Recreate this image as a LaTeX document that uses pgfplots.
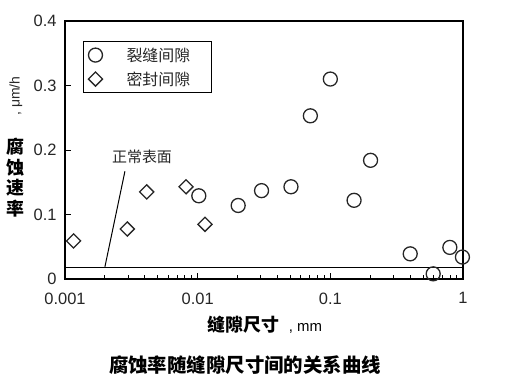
\documentclass[border=0pt]{standalone}
\usepackage{fontspec}
\setmainfont{Liberation Sans}
\newfontfamily\cjk{Noto Sans CJK SC}
\usepackage{pgfplots}
\pgfplotsset{compat=1.18}
\begin{document}
\begin{tikzpicture}[x=1bp,y=1bp]
\useasboundingbox (0,0) rectangle (507,382);
\begin{axis}[
  at={(65bp,103bp)}, anchor=south west,
  scale only axis, width=398bp, height=258bp,
  xmode=log, xmin=0.001, xmax=1, ymin=0, ymax=0.4,
  xtick={0.001,0.01,0.1,1}, xticklabels={0.001,0.01,0.1,1},
  ytick={0,0.1,0.2,0.3,0.4}, yticklabels={0,0.1,0.2,0.3,0.4},
  tick align=inside, xtick pos=bottom, ytick pos=left,
  major tick length=6bp, minor tick length=4bp,
  every tick/.style={black, line width=1bp},
  axis line style={line width=2.4bp},
  tick label style={font=\fontsize{16.5}{19}\selectfont, text=black!85},
  /pgf/number format/assume math mode=true,
  xticklabel style={yshift=-10bp},
  yticklabel style={xshift=-5bp},
  legend style={at={(rel axis cs:0.045,0.922)}, anchor=north west, draw=black, line width=1bp,
    font=\cjk\fontsize{16}{18}\selectfont, text=black!85, inner xsep=5bp, inner ysep=4bp, row sep=5bp,
    legend cell align=left},
  legend image code/.code={\draw[mark repeat=2,mark phase=2] plot coordinates {(0cm,0cm) (0.35cm,0cm) (0.7cm,0cm)};},
]
\addplot[only marks, mark=o, mark size=7bp, mark options={line width=1.3bp, black!85}] coordinates {
(0.0102,0.129) (0.0202,0.114) (0.0303,0.137) (0.0505,0.143) (0.0707,0.253) (0.1,0.310)
(0.151,0.122) (0.201,0.184) (0.40,0.039) (0.596,0.008) (0.796,0.049) (0.99,0.034)};
\addlegendentry{\hspace*{22bp}裂缝间隙\hspace*{14bp}}
\addplot[only marks, mark=square, mark size=5bp, mark options={rotate=45, line width=1.3bp, black!85}] coordinates {
(0.00116,0.059) (0.00295,0.0775) (0.00413,0.135) (0.00817,0.143) (0.01135,0.0848)};
\addlegendentry{\hspace*{22bp}密封间隙\hspace*{14bp}}
\addplot[black, line width=1.2bp, mark=none, forget plot] coordinates {(0.001,0.0175) (1,0.0175)};
\addplot[black, line width=1bp, mark=none, forget plot] coordinates {(0.002,0.019) (0.00283,0.167)};
\end{axis}
\node[font=\cjk\fontsize{15}{17}\selectfont, text=black!85] at (142,382-157) {正常表面};
\node[font=\cjk\bfseries\fontsize{18}{18}\selectfont] at (15.5,382-147) {腐};
\node[font=\cjk\bfseries\fontsize{18}{18}\selectfont] at (15.5,382-168) {蚀};
\node[font=\cjk\bfseries\fontsize{18}{18}\selectfont] at (15.5,382-188) {速};
\node[font=\cjk\bfseries\fontsize{18}{18}\selectfont] at (15.5,382-209) {率};
\node[rotate=90, font=\fontsize{14}{16}\selectfont, text=black!85] at (16,382-96) {, μm/h};
\node[anchor=west, inner sep=0pt] at (207,382-325) {{\cjk\bfseries\fontsize{18}{18}\selectfont 缝隙尺寸}\hspace{10bp}{\fontsize{15}{17}\selectfont , mm}};
\node[font=\cjk\bfseries\fontsize{19.5}{20}\selectfont] at (245,382-365) {腐蚀率随缝隙尺寸间的关系曲线};
\end{tikzpicture}
\end{document}
